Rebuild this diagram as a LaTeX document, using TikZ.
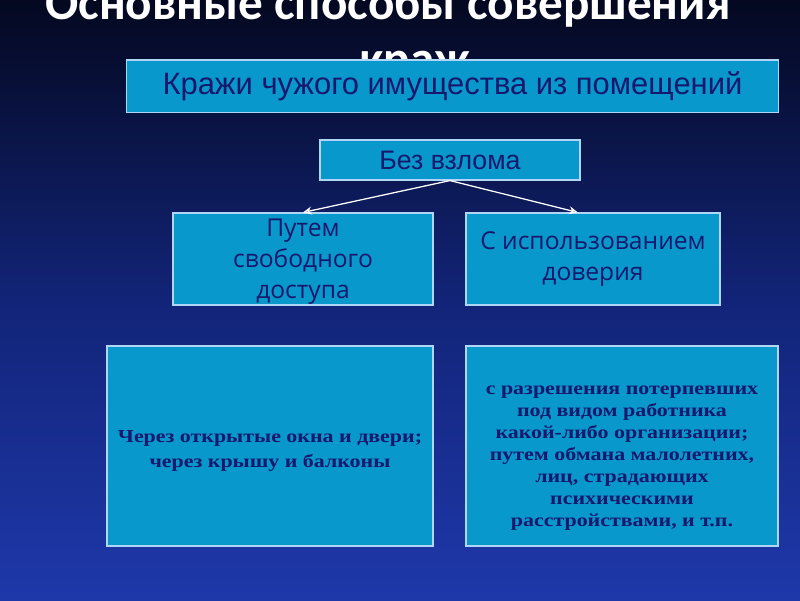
\documentclass[tikz,border=0pt]{standalone}
\usepackage{fontspec}
\setmainfont{Liberation Sans}
\newfontfamily\ttlfont{Carlito}
\newfontfamily\boxfont{Open Sans}
\newfontfamily\srffont[FakeStretch=1.2]{Liberation Serif}
\usetikzlibrary{positioning,arrows.meta,calc}
\definecolor{bgtop}{RGB}{4,8,32}
\definecolor{bgmid}{RGB}{18,36,120}
\definecolor{bgbot}{RGB}{30,56,170}
\definecolor{boxfill}{RGB}{8,152,204}
\definecolor{boxline}{RGB}{175,215,245}
\definecolor{ink}{RGB}{22,24,110}

\begin{document}
\begin{tikzpicture}[
  >={Stealth[open,length=2.2mm,width=2mm]},
  ttl/.style={text=white,font=\ttlfont\bfseries\fontsize{35}{38}\selectfont,inner sep=0pt},
  box/.style={draw=boxline,line width=0.8pt,fill=boxfill,text=ink,align=center,inner sep=0pt},
  srf/.style={text=ink,align=center,inner sep=0pt,font=\srffont\bfseries\fontsize{13}{15.6}\selectfont},
  lnk/.style={->,draw=white,line width=0.9pt}
]
% --- background ---
\useasboundingbox (0,0) rectangle (20,15);
\shade[top color=bgtop,bottom color=bgbot,middle color=bgmid] (0,0) rectangle (20,15);

% --- title (partly hidden by the top box) ---
\node[ttl,anchor=base] (ttl1) at (9.7,14.5) {Основные способы совершения};
\node[ttl,anchor=base] (ttl2) at (10.375,13.12) {краж};

% --- upper boxes ---
\node[box,minimum width=16.3cm,minimum height=1.32cm,font=\fontsize{22}{24}\selectfont]
  (kraz) at (11.31,12.84) {Кражи чужого имущества из помещений};
\node[box,minimum width=6.5cm,minimum height=1cm,font=\fontsize{19}{20}\selectfont]
  (bez) at (11.25,11.0) {Без взлома};

% --- two ways ---
\node[box,minimum width=6.5cm,minimum height=2.3cm,font=\boxfont\fontsize{17.5}{22}\selectfont]
  (svob) at (7.575,8.525) {\\[-0.2cm]Путем\\свободного\\доступа};
\node[box,minimum width=6.35cm,minimum height=2.3cm,font=\boxfont\fontsize{17.5}{22}\selectfont]
  (dov) at (14.825,8.525) {С использованием\\доверия};

\draw[lnk] (bez.south) -- (svob.north);
\draw[lnk] (bez.south) -- ([xshift=-0.38cm]dov.north);

% --- lower boxes ---
\node[box,minimum width=8.15cm,minimum height=5cm] (okna) at (6.75,3.85) {};
\node[srf,font=\srffont\bfseries\fontsize{13}{17.5}\selectfont]
  (oknatxt) at ([yshift=-0.12cm]okna.center) {Через открытые окна и двери;\\через крышу и балконы};
\node[box,minimum width=7.8cm,minimum height=5cm] (obm) at (15.55,3.85) {};
\node[srf] (obmtxt) at ([yshift=-0.3cm]obm.center)
  {с разрешения потерпевших\\под видом работника\\какой-либо организации;\\путем обмана малолетних,\\лиц, страдающих\\психическими\\расстройствами, и т.п.};
\end{tikzpicture}
\end{document}
